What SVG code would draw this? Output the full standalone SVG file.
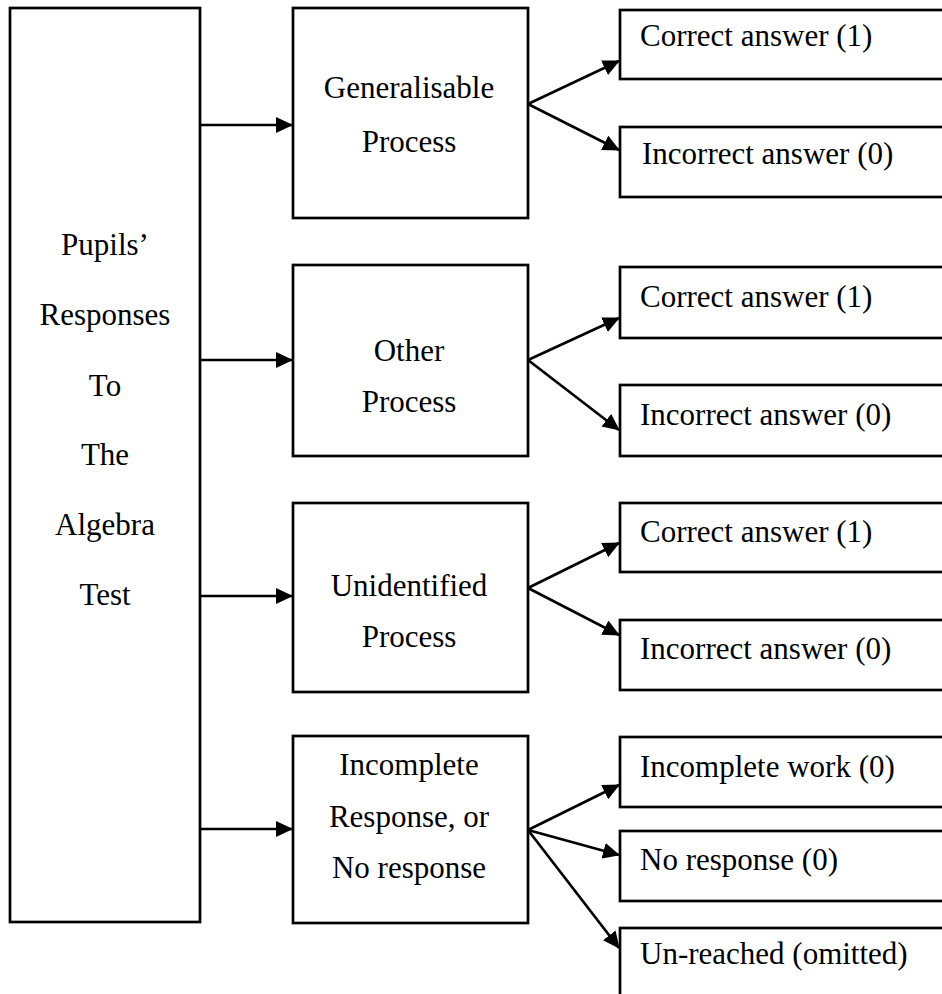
<svg xmlns="http://www.w3.org/2000/svg" width="942" height="994" viewBox="0 0 942 994">
<style>
.box{fill:#fff;stroke:#000;stroke-width:2.7}
.t{font-family:"Liberation Serif","Times New Roman",serif;font-size:31px;fill:#000}
.c{text-anchor:middle}
.ln{stroke:#000;stroke-width:2.7;fill:none;marker-end:url(#ah)}
</style>
<defs>
<marker id="ah" markerWidth="17" markerHeight="16" refX="16" refY="8" orient="auto" markerUnits="userSpaceOnUse">
<path d="M0,0 L17,8 L0,16 Z" fill="#000"/>
</marker>
</defs>
<rect width="942" height="994" fill="#fff"/>
<g id="root">
<rect class="box" x="10" y="8" width="190" height="914"/>
<text class="t c" x="105" y="255">Pupils’</text>
<text class="t c" x="105" y="325">Responses</text>
<text class="t c" x="105" y="396">To</text>
<text class="t c" x="105" y="465">The</text>
<text class="t c" x="105" y="535">Algebra</text>
<text class="t c" x="105" y="605">Test</text>
</g>
<g id="m1">
<rect class="box" x="293" y="8" width="235" height="210"/>
<text class="t c" x="409" y="98">Generalisable</text>
<text class="t c" x="409" y="152">Process</text>
</g>
<g id="m2">
<rect class="box" x="293" y="265" width="235" height="191"/>
<text class="t c" x="409" y="361">Other</text>
<text class="t c" x="409" y="412">Process</text>
</g>
<g id="m3">
<rect class="box" x="293" y="503" width="235" height="189"/>
<text class="t c" x="409" y="596">Unidentified</text>
<text class="t c" x="409" y="647">Process</text>
</g>
<g id="m4">
<rect class="box" x="293" y="736" width="235" height="187"/>
<text class="t c" x="409" y="775">Incomplete</text>
<text class="t c" x="409" y="827">Response, or</text>
<text class="t c" x="409" y="878">No response</text>
</g>
<g id="r1"><rect class="box" x="620" y="10" width="340" height="69"/><text class="t" x="640" y="46">Correct answer (1)</text></g>
<g id="r2"><rect class="box" x="620" y="127" width="340" height="70"/><text class="t" x="642" y="164">Incorrect answer (0)</text></g>
<g id="r3"><rect class="box" x="620" y="267" width="340" height="71"/><text class="t" x="640" y="307">Correct answer (1)</text></g>
<g id="r4"><rect class="box" x="620" y="385" width="340" height="71"/><text class="t" x="640" y="425">Incorrect answer (0)</text></g>
<g id="r5"><rect class="box" x="620" y="503" width="340" height="69"/><text class="t" x="640" y="542">Correct answer (1)</text></g>
<g id="r6"><rect class="box" x="620" y="620" width="340" height="70"/><text class="t" x="640" y="659">Incorrect answer (0)</text></g>
<g id="r7"><rect class="box" x="620" y="737" width="340" height="70"/><text class="t" x="640" y="777">Incomplete work (0)</text></g>
<g id="r8"><rect class="box" x="620" y="831" width="340" height="70"/><text class="t" x="640" y="870">No response (0)</text></g>
<g id="r9"><rect class="box" x="620" y="928" width="340" height="80"/><text class="t" x="640" y="964">Un-reached (omitted)</text></g>
<g id="connectors">
<line class="ln" x1="200" y1="125" x2="292" y2="125"/>
<line class="ln" x1="200" y1="360" x2="292" y2="360"/>
<line class="ln" x1="200" y1="596" x2="292" y2="596"/>
<line class="ln" x1="200" y1="829" x2="292" y2="829"/>
<line class="ln" x1="528" y1="104" x2="619" y2="61"/>
<line class="ln" x1="528" y1="104" x2="619" y2="150"/>
<line class="ln" x1="528" y1="360" x2="619" y2="318"/>
<line class="ln" x1="528" y1="360" x2="619" y2="430"/>
<line class="ln" x1="528" y1="588" x2="619" y2="543"/>
<line class="ln" x1="528" y1="588" x2="619" y2="635"/>
<line class="ln" x1="528" y1="830" x2="619" y2="785"/>
<line class="ln" x1="528" y1="830" x2="619" y2="855"/>
<line class="ln" x1="528" y1="830" x2="619" y2="948"/>
</g>
</svg>
